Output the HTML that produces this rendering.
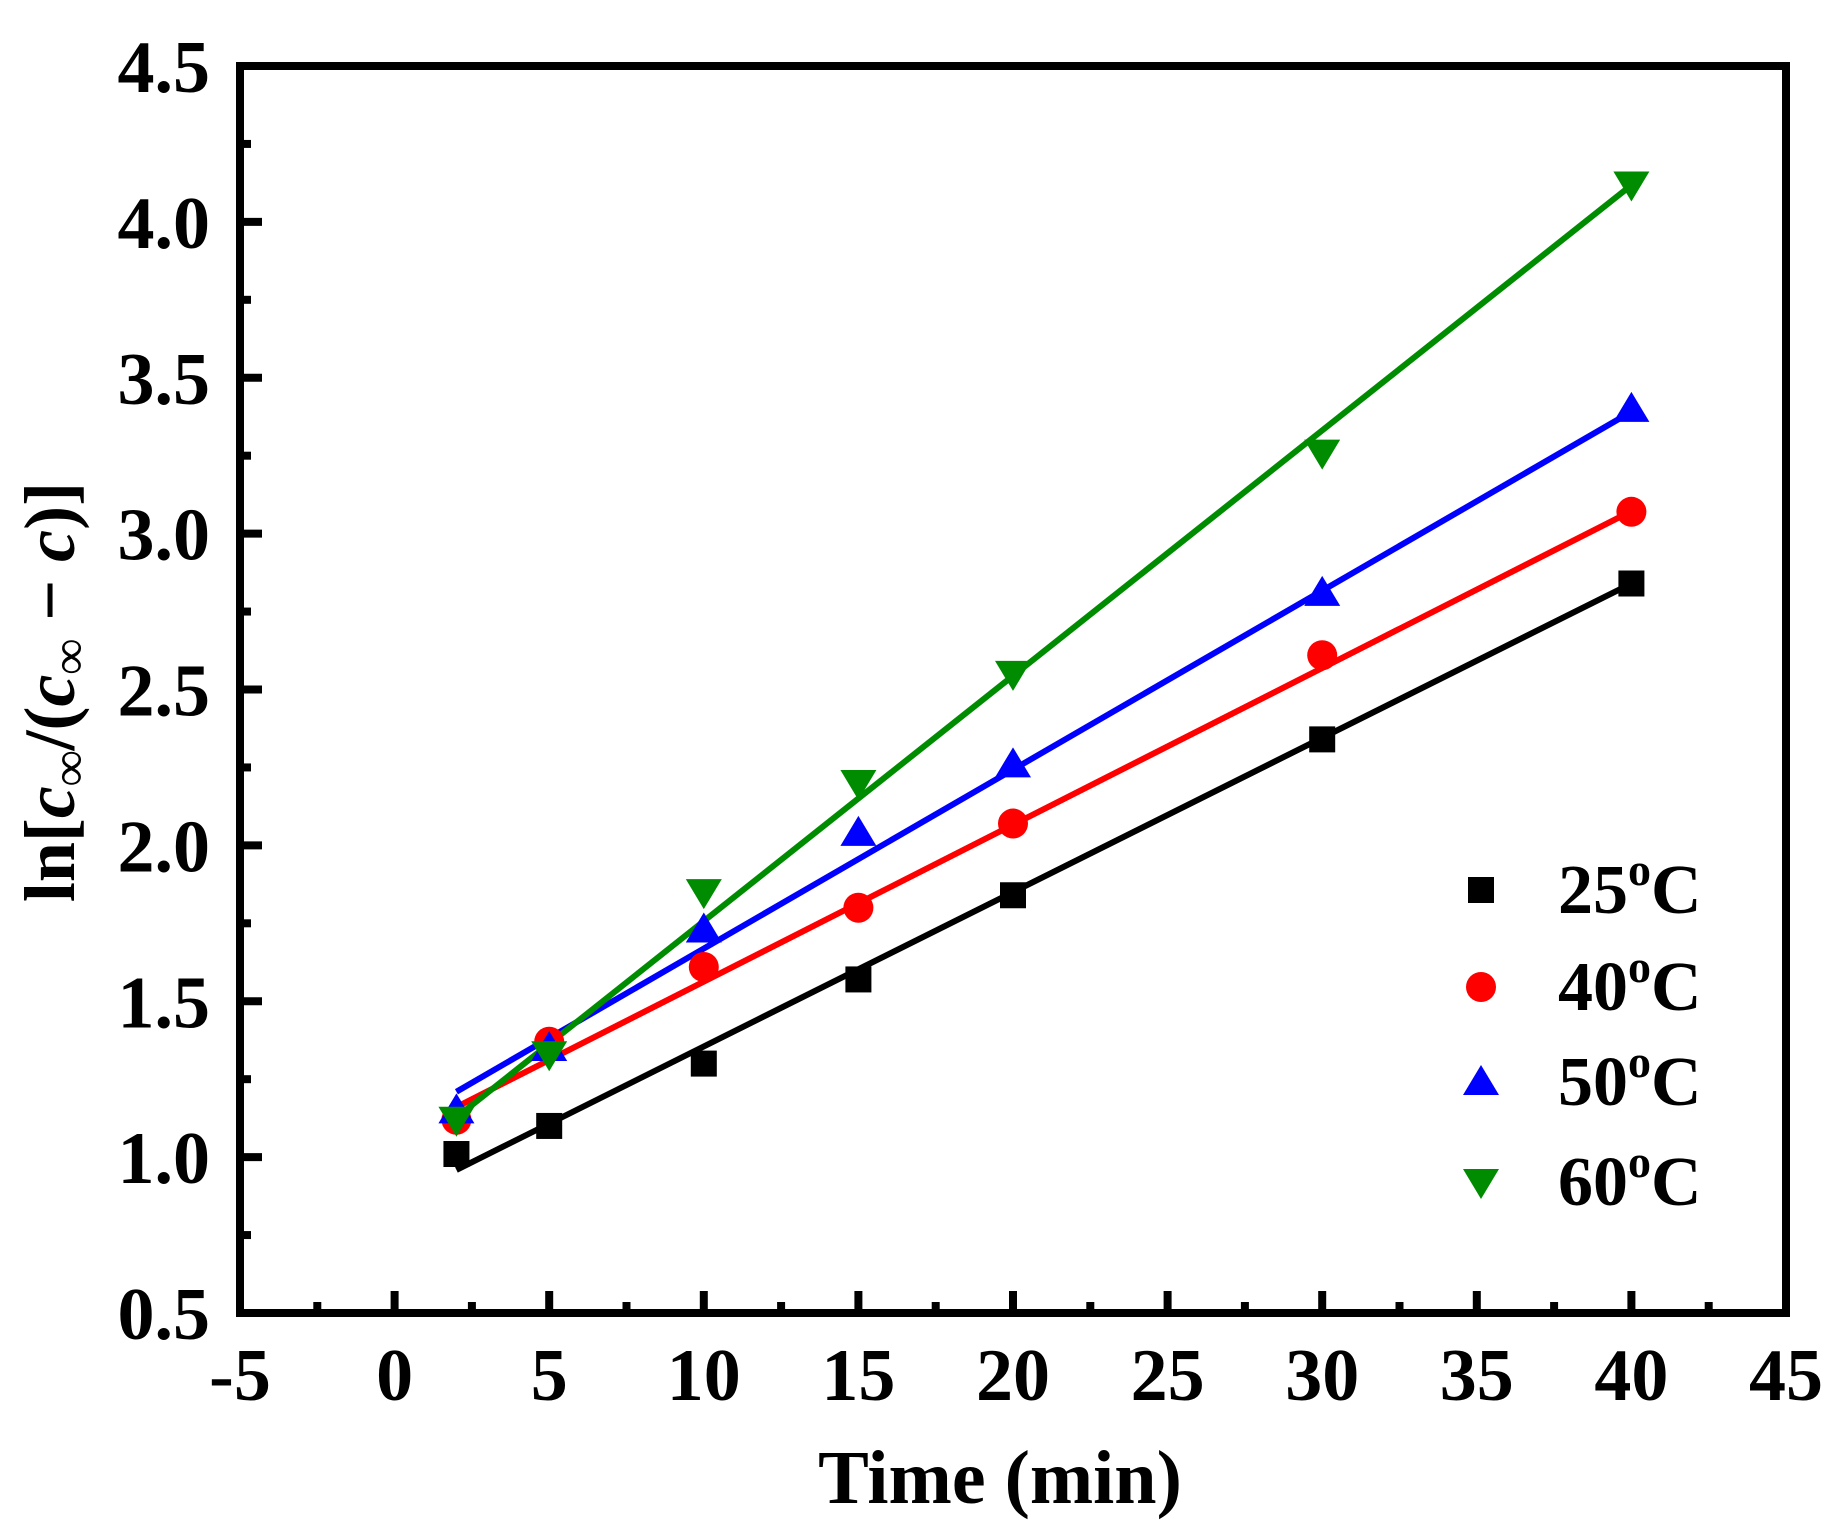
<!DOCTYPE html>
<html><head><meta charset="utf-8"><style>
html,body{margin:0;padding:0;background:#fff;}
svg text{font-family:"Liberation Serif",serif;font-weight:bold;}
</style></head><body>
<svg id="chart" width="1847" height="1532" viewBox="0 0 1847 1532" xmlns="http://www.w3.org/2000/svg">
<g id="grid"></g>
<g id="fits"></g>
<g id="marks"></g>
<rect x="240" y="66" width="1546" height="1247" fill="none" stroke="#000" stroke-width="8"/>
<g id="ticks"></g>
<text x="1000" y="1503" font-size="76" text-anchor="middle">Time (min)</text>
<text transform="translate(74,692) rotate(-90)" font-size="72" text-anchor="middle">ln[<tspan font-style="italic">c</tspan><tspan font-size="50" dy="12">∞</tspan><tspan dy="-12">/(</tspan><tspan font-style="italic">c</tspan><tspan font-size="50" dy="12">∞</tspan><tspan dy="-12"> − </tspan><tspan font-style="italic">c</tspan>)]</text>
<g id="legend"></g>
</svg>
<script>
const xs = [2, 5, 10, 15, 20, 30, 40];
const s25 = [1.01, 1.10, 1.30, 1.57, 1.84, 2.34, 2.84];
const s40 = [1.12, 1.37, 1.61, 1.80, 2.07, 2.61, 3.07];
const s50 = [1.15, 1.35, 1.73, 2.04, 2.26, 2.81, 3.40];
const s60 = [1.12, 1.33, 1.85, 2.20, 2.55, 3.26, 4.12];
const fitSlopes = [0.0495, 0.0503, 0.0574, 0.0787];
const fitIntercepts = [0.86, 1.06, 1.095, 0.97];
const seriesNames = ["25", "40", "50", "60"];
const xTicks = [-5, 0, 5, 10, 15, 20, 25, 30, 35, 40, 45];
const yTicks = [0.5, 1.0, 1.5, 2.0, 2.5, 3.0, 3.5, 4.0, 4.5];

const NS = "http://www.w3.org/2000/svg";
const L = 240, R = 1786, T = 66, B = 1313;
const xMin = -5, xMax = 45, yMin = 0.5, yMax = 4.5;
const X = v => L + (v - xMin) / (xMax - xMin) * (R - L);
const Y = v => B - (v - yMin) / (yMax - yMin) * (B - T);
function mk(tag, attrs, parent) {
  const e = document.createElementNS(NS, tag);
  for (const k in attrs) e.setAttribute(k, attrs[k]);
  parent.appendChild(e);
  return e;
}
const ticksG = document.getElementById('ticks');
xTicks.forEach((t, i) => {
  const l = mk('line', {x1: X(t), x2: X(t), y1: B, y2: B - 22, stroke: '#000', 'stroke-width': 8}, ticksG);
  
  
  if (i < xTicks.length - 1) {
    const m = (t + xTicks[i + 1]) / 2;
    const ml = mk('line', {x1: X(m), x2: X(m), y1: B, y2: B - 11, stroke: '#000', 'stroke-width': 8}, ticksG);
    
    
  }
  const tx = mk('text', {x: X(t), y: 1400, 'font-size': 74, 'text-anchor': 'middle'}, ticksG);
  tx.textContent = String(t);
  
  
});
yTicks.forEach((t, i) => {
  const l = mk('line', {x1: L, x2: L + 22, y1: Y(t), y2: Y(t), stroke: '#000', 'stroke-width': 8}, ticksG);
  
  
  if (i < yTicks.length - 1) {
    const m = (t + yTicks[i + 1]) / 2;
    const ml = mk('line', {x1: L, x2: L + 11, y1: Y(m), y2: Y(m), stroke: '#000', 'stroke-width': 8}, ticksG);
    
    
  }
  const tx = mk('text', {x: 210, y: Y(t) + 26, 'font-size': 74, 'text-anchor': 'end'}, ticksG);
  tx.textContent = t.toFixed(1);
  
  
});
const colors = ['#000000', '#ff0000', '#0000ff', '#008c00'];
const series = [s25, s40, s50, s60];
const fitsG = document.getElementById('fits');
const marksG = document.getElementById('marks');
function marker(kind, cx, cy, color, parent) {
  let e;
  if (kind === 0) e = mk('rect', {x: cx - 13, y: cy - 13, width: 26, height: 26, fill: color}, parent);
  else if (kind === 1) e = mk('circle', {cx: cx, cy: cy, r: 15, fill: color}, parent);
  else if (kind === 2) e = mk('polygon', {points: `${cx},${cy - 17} ${cx - 18},${cy + 13} ${cx + 18},${cy + 13}`, fill: color}, parent);
  else e = mk('polygon', {points: `${cx},${cy + 17} ${cx - 18},${cy - 13} ${cx + 18},${cy - 13}`, fill: color}, parent);
  return e;
}
series.forEach((s, k) => {
  const x0 = xs[0], x1 = xs[xs.length - 1];
  const fl = mk('line', {x1: X(x0), y1: Y(fitIntercepts[k] + fitSlopes[k] * x0), x2: X(x1), y2: Y(fitIntercepts[k] + fitSlopes[k] * x1), stroke: colors[k], 'stroke-width': 6}, fitsG);
  
  
  s.forEach((v, i) => {
    const m = marker(k, X(xs[i]), Y(v), colors[k], marksG);
    
    
  });
});
const legG = document.getElementById('legend');
const legY = [890, 987, 1082, 1182];
seriesNames.forEach((n, k) => {
  const m = marker(k, 1481, legY[k], colors[k], legG);
  
  
  const t = mk('text', {x: 1558, y: legY[k] + 23, 'font-size': 70}, legG);
  t.innerHTML = n + '<tspan font-size="46" dy="-28">o</tspan><tspan dy="28">C</tspan>';
  
  
});
</script>
</body></html>
